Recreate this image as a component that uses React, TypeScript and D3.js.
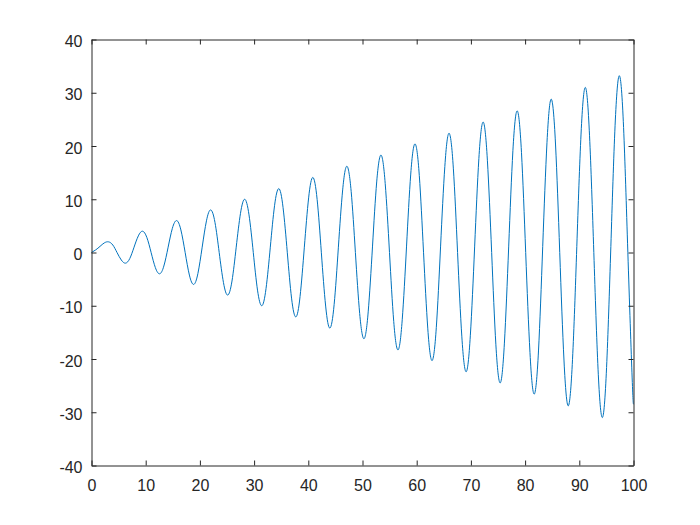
import React, { useRef, useEffect } from 'react';
import * as d3 from 'd3';

// sample positions (quarter steps) read along the x axis
const xValues = [
  0.00, 0.79, 1.57, 2.36, 3.14, 3.93, 4.71, 5.50, 6.28, 7.07, 7.85, 8.64, 9.42, 10.21, 11.00, 11.78,
  12.57, 13.35, 14.14, 14.92, 15.71, 16.49, 17.28, 18.06, 18.85, 19.63, 20.42, 21.21, 21.99, 22.78, 23.56, 24.35,
  25.13, 25.92, 26.70, 27.49, 28.27, 29.06, 29.85, 30.63, 31.42, 32.20, 32.99, 33.77, 34.56, 35.34, 36.13, 36.91,
  37.70, 38.48, 39.27, 40.06, 40.84, 41.63, 42.41, 43.20, 43.98, 44.77, 45.55, 46.34, 47.12, 47.91, 48.69, 49.48,
  50.27, 51.05, 51.84, 52.62, 53.41, 54.19, 54.98, 55.76, 56.55, 57.33, 58.12, 58.90, 59.69, 60.48, 61.26, 62.05,
  62.83, 63.62, 64.40, 65.19, 65.97, 66.76, 67.54, 68.33, 69.12, 69.90, 70.69, 71.47, 72.26, 73.04, 73.83, 74.61,
  75.40, 76.18, 76.97, 77.75, 78.54, 79.33, 80.11, 80.90, 81.68, 82.47, 83.25, 84.04, 84.82, 85.61, 86.39, 87.18,
  87.96, 88.75, 89.54, 90.32, 91.11, 91.89, 92.68, 93.46, 94.25, 95.03, 95.82, 96.60, 97.39, 98.17, 98.96, 99.75,
  100.00,
];

// curve values at those positions
const yValues = [
  0, 0.5, 1.15, 1.8, 2.0, 1.41, 0, -1.41, -2.0, -1.12, 1.0, 3.12, 4.0, 2.83, 0, -2.83,
  -4.0, -2.54, 1.0, 4.54, 6.0, 4.24, 0, -4.24, -6.0, -3.95, 1.0, 5.95, 8.0, 5.66, 0, -5.66,
  -8.0, -5.36, 1.0, 7.36, 10.0, 7.07, 0, -7.07, -10.0, -6.78, 1.0, 8.78, 12.0, 8.47, -0.05, -8.57,
  -12.1, -8.26, 1.0, 10.26, 14.1, 9.96, -0.05, -10.06, -14.2, -9.75, 1.0, 11.75, 16.2, 11.46, 0, -11.46,
  -16.2, -11.15, 1.05, 13.25, 18.3, 12.94, 0, -12.94, -18.3, -12.63, 1.05, 14.73, 20.4, 14.44, 0.05, -14.34,
  -20.3, -14.05, 1.05, 16.15, 22.4, 15.84, 0, -15.84, -22.4, -15.53, 1.05, 17.63, 24.5, 17.33, 0, -17.33,
  -24.5, -17.02, 1.05, 19.12, 26.6, 18.81, 0, -18.81, -26.6, -18.49, 1.1, 20.69, 28.8, 20.37, 0, -20.37,
  -28.8, -20.05, 1.1, 22.24, 31.0, 21.92, 0, -21.92, -31.0, -21.6, 1.1, 23.8, 33.2, 23.46, -0.05, -23.56,
  -28.5,
];

const xTicks = [0, 10, 20, 30, 40, 50, 60, 70, 80, 90, 100];
const yTicks = [-40, -30, -20, -10, 0, 10, 20, 30, 40];

function App() {
  const svgRef = useRef(null);

  useEffect(() => {
    const svg = d3.select(svgRef.current);
    svg.selectAll('*').remove();

    const width = 700;
    const height = 525;
    const left = 91.5, right = 633.5, top = 39.5, bottom = 465.5;
    const axisColor = '#262626';
    const font = 'Arial, "Liberation Sans", Helvetica, sans-serif';

    const x = d3.scaleLinear().domain([0, 100]).range([left, right]);
    const y = d3.scaleLinear().domain([-40, 40]).range([bottom, top]);

    svg.append('rect')
      .attr('width', width)
      .attr('height', height)
      .attr('fill', '#ffffff');

    const data = xValues.map((d, i) => [d, yValues[i]]);

    const line = d3.line()
      .x(d => x(d[0]))
      .y(d => y(d[1]))
      .curve(d3.curveNatural);

    svg.append('path')
      .datum(data)
      .attr('d', line)
      .attr('fill', 'none')
      .attr('stroke', '#0072BD')
      .attr('stroke-width', 1);

    const styleAxis = g => {
      g.attr('font-family', font).attr('font-size', 16);
      g.select('.domain').attr('stroke', axisColor);
      g.selectAll('.tick line').attr('stroke', axisColor);
      g.selectAll('.tick text')
        .attr('fill', axisColor)
        .style('font-family', font)
        .style('font-size', '16px')
        .text(function () { return d3.select(this).text().replace('−', '-'); });
    };

    svg.append('g')
      .attr('transform', `translate(0, ${bottom})`)
      .call(d3.axisBottom(x).tickValues(xTicks).tickSizeInner(-5).tickSizeOuter(0).tickPadding(14))
      .call(styleAxis);

    svg.append('g')
      .attr('transform', `translate(0, ${top})`)
      .call(d3.axisTop(x).tickValues(xTicks).tickSizeInner(-5).tickSizeOuter(0).tickFormat(() => ''))
      .call(styleAxis);

    svg.append('g')
      .attr('transform', `translate(${left}, 0)`)
      .call(d3.axisLeft(y).tickValues(yTicks).tickSizeInner(-5).tickSizeOuter(0).tickPadding(9))
      .call(styleAxis)
      .selectAll('.tick text')
      .attr('y', 2);

    svg.append('g')
      .attr('transform', `translate(${right}, 0)`)
      .call(d3.axisRight(y).tickValues(yTicks).tickSizeInner(-5).tickSizeOuter(0).tickFormat(() => ''))
      .call(styleAxis);
  }, []);

  return (
    <svg
      ref={svgRef}
      width={700}
      height={525}
      style={{ position: 'absolute', left: 0, top: 0 }}
    ></svg>
  );
}

export default App;
